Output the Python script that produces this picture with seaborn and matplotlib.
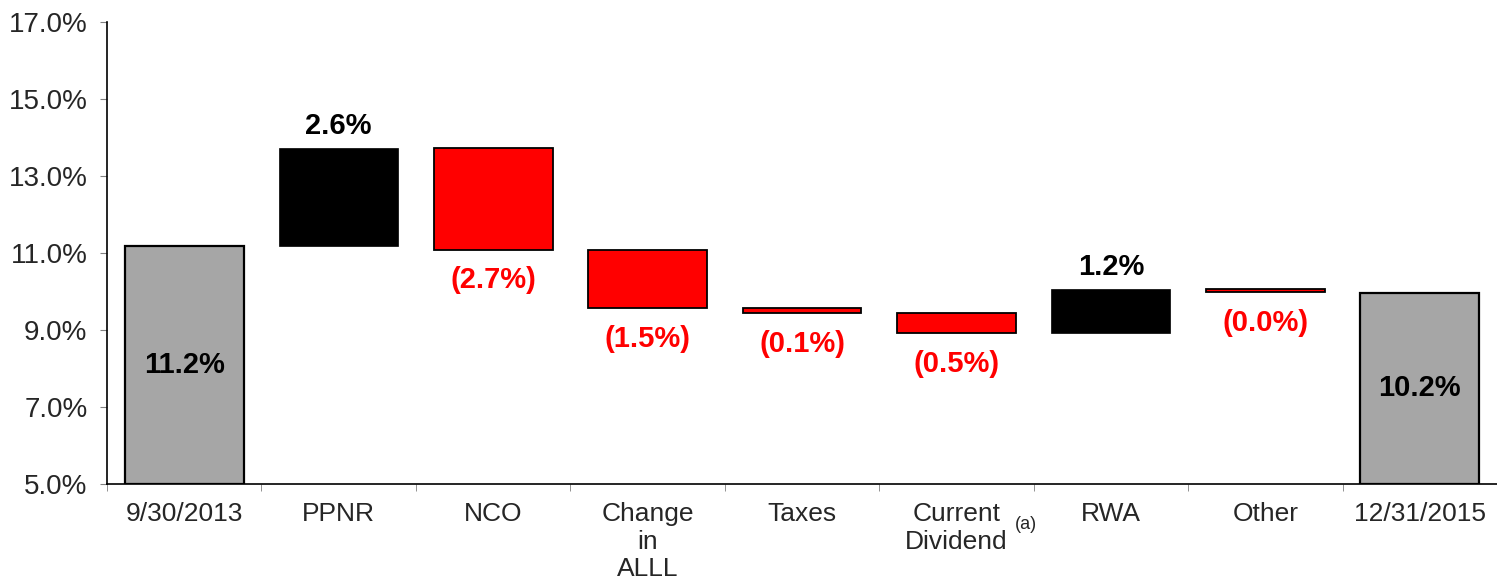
import numpy as np
import pandas as pd
import seaborn as sns
import matplotlib.pyplot as plt

# waterfall data (in %)
categories = ["9/30/2013", "PPNR", "NCO", "Change\nin\nALLL", "Taxes",
              "Current\nDividend", "RWA", "Other", "12/31/2015"]
start_value = 11.18
changes = [2.55, -2.65, -1.51, -0.13, -0.52, 1.14, -0.08]
end_value = 9.96
value_labels = ["11.2%", "2.6%", "(2.7%)", "(1.5%)", "(0.1%)", "(0.5%)",
                "1.2%", "(0.0%)", "10.2%"]

base = 5.0
levels = start_value + np.cumsum([0] + changes)
bottoms = [base]
heights = [start_value - base]
kinds = ["total"]
for i, c in enumerate(changes):
    lo = min(levels[i], levels[i + 1])
    bottoms.append(lo)
    heights.append(abs(c))
    kinds.append("up" if c > 0 else "down")
bottoms.append(base)
heights.append(end_value - base)
kinds.append("total")

df = pd.DataFrame({"category": categories, "height": heights,
                   "bottom": bottoms, "kind": kinds})

sns.set_style("ticks")
plt.rcParams["font.family"] = ["Liberation Sans", "DejaVu Sans"]

fig, ax = plt.subplots(figsize=(14.97, 5.85), dpi=100)
fig.subplots_adjust(left=0.0715, right=1.0, top=0.962, bottom=0.173)

styles = {"total": dict(color="#a6a6a6", edgecolor="black", linewidth=1.6),
          "up": dict(color="black", edgecolor="black", linewidth=0.5),
          "down": dict(color="#ff0000", edgecolor="black", linewidth=1.3)}
for kind, st in styles.items():
    sub = df[df["kind"] == kind]
    sns.barplot(data=sub, x="category", y="height", order=categories,
                bottom=sub["bottom"].values, width=0.77, errorbar=None,
                saturation=1, ax=ax, **st)

ax.set_ylim(5, 17)
# the axis runs slightly past the right edge of the picture
ax.set_xlim(-0.5, len(categories) - 0.56)
ax.set_yticks(np.arange(5, 17.1, 2))
ax.set_yticklabels([f"{v:.1f}%" for v in np.arange(5, 17.1, 2)])
ax.set_xlabel("")
ax.set_ylabel("")

# value labels
for i, (lab, kind) in enumerate(zip(value_labels, kinds)):
    b, h = bottoms[i], heights[i]
    if kind == "total":
        ax.text(i, b + h / 2, lab, ha="center", va="center",
                fontsize=21, fontweight="bold", color="black")
    elif kind == "up":
        ax.annotate(lab, (i, b + h), xytext=(0, 16), textcoords="offset points",
                    ha="center", va="center", fontsize=21, fontweight="bold",
                    color="black")
    else:
        ax.annotate(lab, (i, b), xytext=(0, -22), textcoords="offset points",
                    ha="center", va="center", fontsize=21, fontweight="bold",
                    color="#ff0000")

# footnote marker on Current Dividend
ax.annotate("(a)", (categories.index("Current\nDividend"), 0),
            xycoords=("data", "axes fraction"), xytext=(50, -29),
            textcoords="offset points", ha="center", va="center", fontsize=13)

ax.tick_params(axis="x", which="major", length=0, pad=13, labelsize=19)
ax.set_xticks(np.arange(-0.5, len(categories), 1), minor=True)
ax.tick_params(axis="x", which="minor", length=5, color="#808080", direction="out")
ax.tick_params(axis="y", length=5, color="#808080", direction="out", pad=9,
               labelsize=20)
for s in ["top", "right"]:
    ax.spines[s].set_visible(False)
for s in ["left", "bottom"]:
    ax.spines[s].set_color("black")
    ax.spines[s].set_linewidth(1.2)

plt.savefig("out.png", dpi=100)
